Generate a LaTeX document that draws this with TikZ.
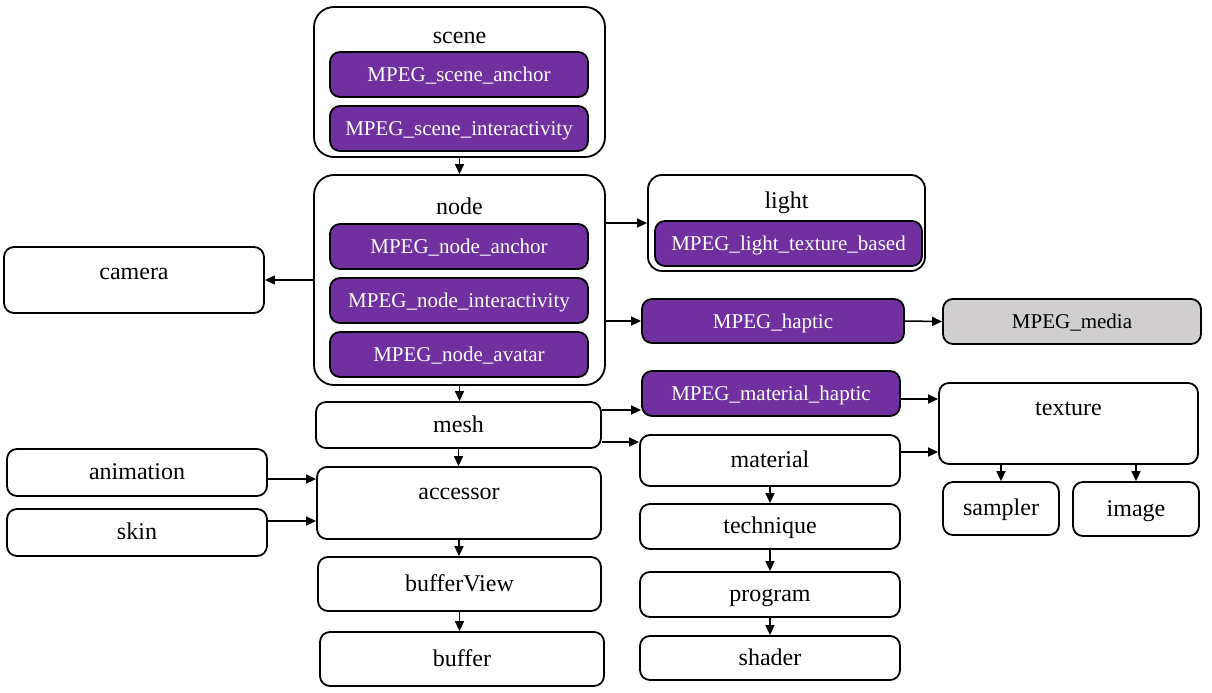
\documentclass[tikz,border=0pt]{standalone}
\usepackage{fontspec}
\setmainfont{Liberation Serif}
\definecolor{MpegPurple}{RGB}{112, 48, 160}
\definecolor{MediaGray}{RGB}{208, 206, 206}
\usetikzlibrary{arrows.meta, positioning, calc}

\begin{document}
\begin{tikzpicture}[
        x=0.5pt, y=-0.5pt,
        font=\fontsize{12}{14}\selectfont,
        title/.style={inner sep=0pt, text height=0.95em, text depth=0.24em},
        box/.style={rectangle, draw=black, line width=0.9pt, fill=white, rounded corners=5pt, inner sep=0pt, align=center, text height=0.95em, text depth=0.24em},
        container/.style={box, rounded corners=10pt},
        mpeg/.style={box, fill=MpegPurple, text=white, font=\fontsize{10.5}{12}\selectfont},
        media/.style={box, fill=MediaGray, font=\fontsize{10.5}{12}\selectfont},
        arrow/.style={-{Triangle[length=5pt, width=4.5pt]}, line width=0.75pt}
    ]
        \useasboundingbox (0,0) rectangle (1212,692);

        % Scene
        \node[container, minimum width=145.5pt, minimum height=75pt] (scenebox) at (459.5,82) {};
        \node[title] (scenetitle) at (459.5,36) {scene};
        \node[mpeg, minimum width=129pt, minimum height=22.5pt] (sceneanchor) at (459,74.5) {MPEG\_scene\_anchor};
        \node[mpeg, minimum width=129pt, minimum height=22.5pt] (sceneinter) at (459,128.5) {MPEG\_scene\_interactivity};

        % Node
        \node[container, minimum width=145.5pt, minimum height=105pt] (nodebox) at (459.5,280) {};
        \node[title] (nodetitle) at (459.5,207) {node};
        \node[mpeg, minimum width=129pt, minimum height=22.5pt] (nodeanchor) at (459,246.5) {MPEG\_node\_anchor};
        \node[mpeg, minimum width=129pt, minimum height=22.5pt] (nodeinter) at (459,300.5) {MPEG\_node\_interactivity};
        \node[mpeg, minimum width=129pt, minimum height=22.5pt] (nodeavatar) at (459,354.5) {MPEG\_node\_avatar};

        % Camera and light
        \node[box, minimum width=130pt, minimum height=33pt] (camera) at (134,280) {};
        \node[title] (cameratitle) at (134,272) {camera};
        \node[box, rounded corners=7pt, minimum width=138.5pt, minimum height=48pt] (lightbox) at (786.5,223) {};
        \node[title] (lighttitle) at (786.5,201) {light};
        \node[mpeg, minimum width=133.5pt, minimum height=22.5pt] (lighttex) at (788.5,243.5) {MPEG\_light\_texture\_based};

        % Haptics and media
        \node[mpeg, minimum width=131pt, minimum height=22pt] (haptic) at (773,321) {MPEG\_haptic};
        \node[media, minimum width=129pt, minimum height=22.5pt] (media) at (1072,321.5) {MPEG\_media};
        \node[mpeg, minimum width=129pt, minimum height=22.5pt] (mathaptic) at (771,393.5) {MPEG\_material\_haptic};

        % Mesh column
        \node[box, minimum width=142.5pt, minimum height=23pt] (mesh) at (458.5,425) {mesh};
        \node[box, minimum width=142pt, minimum height=36pt] (accessor) at (459,503) {};
        \node[title] (accessortitle) at (459,492) {accessor};
        \node[box, minimum width=141.5pt, minimum height=27pt] (bufferview) at (459.5,584) {bufferView};
        \node[box, minimum width=142pt, minimum height=27pt] (buffer) at (462,659) {buffer};
        \node[box, minimum width=130pt, minimum height=23.5pt] (animation) at (137,472.5) {animation};
        \node[box, minimum width=130pt, minimum height=23.5pt] (skin) at (137,532.5) {skin};

        % Material column
        \node[box, minimum width=130pt, minimum height=25.5pt] (material) at (770,460.5) {material};
        \node[box, minimum width=130pt, minimum height=22.5pt] (technique) at (770,526.5) {technique};
        \node[box, minimum width=130pt, minimum height=22.5pt] (program) at (770,594.5) {program};
        \node[box, minimum width=130pt, minimum height=22pt] (shader) at (770,658) {shader};

        % Texture
        \node[box, minimum width=129.5pt, minimum height=40.5pt] (texture) at (1068.5,423.5) {};
        \node[title] (texturetitle) at (1068.5,408) {texture};
        \node[box, minimum width=58pt, minimum height=26.5pt] (sampler) at (1001,508.5) {sampler};
        \node[box, minimum width=63pt, minimum height=27pt] (image) at (1136,509) {image};

        % Arrows
        \draw[arrow] (scenebox.south) -- (nodebox.north);
        \draw[arrow] (camera.east -| nodebox.west) -- (camera.east);
        \draw[arrow] (lightbox.west -| nodebox.east) -- (lightbox.west);
        \draw[arrow] (haptic.west -| nodebox.east) -- (haptic.west);
        \draw[arrow] (haptic.east) -- (media.west);
        \draw[arrow] (nodebox.south) -- (nodebox.south |- mesh.north);
        \draw[arrow] ([yshift=7.5pt]mesh.east) -- ([yshift=7.5pt]mesh.east -| mathaptic.west);
        \draw[arrow] ([yshift=-8.5pt]mesh.east) -- ([yshift=-8.5pt]mesh.east -| material.west);
        \draw[arrow] ([yshift=-2.75pt]mathaptic.east) -- ([yshift=-2.75pt]mathaptic.east -| texture.west);
        \draw[arrow] ([yshift=4.25pt]material.east) -- ([yshift=4.25pt]material.east -| texture.west);
        \draw[arrow] (sampler.north |- texture.south) -- (sampler.north);
        \draw[arrow] (image.north |- texture.south) -- (image.north);
        \draw[arrow] (mesh.south) -- (mesh.south |- accessor.north);
        \draw[arrow] (accessor.south) -- (accessor.south |- bufferview.north);
        \draw[arrow] (bufferview.south) -- (bufferview.south |- buffer.north);
        \draw[arrow] ([yshift=-3.25pt]animation.east) -- ([yshift=-3.25pt]animation.east -| accessor.west);
        \draw[arrow] ([yshift=5.75pt]skin.east) -- ([yshift=5.75pt]skin.east -| accessor.west);
        \draw[arrow] (material.south) -- (technique.north);
        \draw[arrow] (technique.south) -- (program.north);
        \draw[arrow] (program.south) -- (shader.north);
    \end{tikzpicture}
\end{document}
